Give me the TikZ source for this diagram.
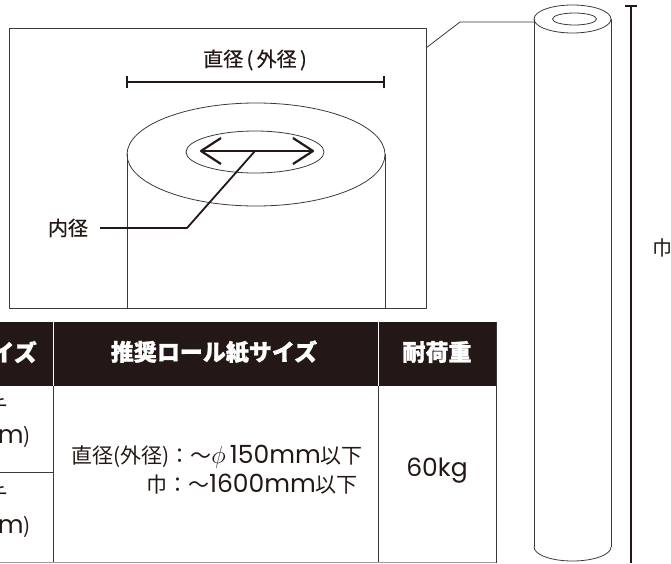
\documentclass[tikz,border=0pt]{standalone}
\usepackage{fontspec}
\setmainfont{Noto Sans CJK JP}
\newfontfamily\mdfont{Noto Sans CJK JP}[FakeBold=0.6]
\newfontfamily\hdfont{Noto Sans CJK JP}[BoldFeatures={FakeBold=1.2}]
\newfontfamily\lat{Poppins}
\definecolor{lc}{HTML}{3A3A3A}
\definecolor{hdr}{HTML}{231815}
\newcommand{\lt}[1]{{\lat\fontsize{25}{25}\selectfont #1}}
\begin{document}
\begin{tikzpicture}[x=1pt,y=-1pt,line join=round,
  ln/.style={draw=lc,line width=0.8pt},
  thk/.style={draw=hdr,line width=2.2pt},
  lbl/.style={inner sep=0pt,text=hdr,font=\mdfont\fontsize{20}{20}\selectfont},
  hd/.style={inner sep=0pt,text=white,font=\hdfont\bfseries\fontsize{23}{23}\selectfont},
  cell/.style={inner sep=0pt,text=hdr,font=\fontsize{21}{21}\selectfont}]
\useasboundingbox (0,0) rectangle (671,563);
\clip (0,0) rectangle (671,563);
% detail box
\draw[ln] (9,28) rectangle (426,308);
\draw[ln] (127,154) -- (127,308) (385,154) -- (385,308);
\draw[ln] (256,154.5) ellipse [x radius=129,y radius=51.5];
\draw[ln] (255,152) ellipse [x radius=69,y radius=21];
% inner diameter arrow
\coordinate (al) at (201,151);
\coordinate (ar) at (313,151);
\draw[thk] (al) -- (ar);
\draw[thk] (221,138) -- (al) -- (221,164);
\draw[thk] (293,138) -- (ar) -- (293,164);
% title + dimension
\node[lbl] (title) at (255,60) {直径\,(\,外径\,)};
\coordinate (d1) at (127,82);
\coordinate (d2) at (384,82);
\draw[draw=hdr,line width=1.3pt] (d1) -- (d2);
\draw[draw=hdr,line width=1.3pt] (127,76) -- (127,88) (384,76) -- (384,88);
% inner label
\node[lbl] (inner) at (68,228) {内径};
\coordinate (k) at (187,228);
\coordinate (m) at (255,151);
\draw[draw=hdr,line width=1.8pt] (100,228) -- (k) -- (m);
% leader to roll
\coordinate (b1) at (426,48);
\coordinate (b2) at (460,22);
\coordinate (b3) at (534,22);
\draw[ln] (b1) -- (b2) -- (b3);
% roll
\draw[ln] (534,19) -- (534,547) (611,19) -- (611,547);
\draw[ln] (572.5,19) ellipse [x radius=38.5,y radius=14];
\draw[ln] (574.5,19) ellipse [x radius=22,y radius=6];
\draw[ln] (534,547) arc [start angle=180,end angle=0,x radius=38.5,y radius=14];
% width dimension
\draw[draw=hdr,line width=1.2pt] (631,6) -- (631,563);
\draw[draw=hdr,line width=1.6pt] (625,6) -- (637,6);
\node[cell,font=\fontsize{20}{20}\selectfont] (w) at (662,248) {巾};
% table
\fill[hdr] (0,322) rectangle (496,386);
\draw[white,line width=0.8pt] (53,322) -- (53,386) (378,322) -- (378,386);
\draw[ln] (53,386) -- (53,563) (378,386) -- (378,563) (496,322) -- (496,563);
\draw[ln] (0,472) -- (53,472);
\draw[draw=lc!50,line width=0.8pt] (0,562.6) -- (496,562.6);
\node[hd,anchor=east] (h1) at (37,352) {サイズ};
\node[hd] (h2) at (214,352) {推奨ロール紙サイズ};
\node[hd] (h3) at (437,352) {耐荷重};
\node[cell,anchor=east] (c1a) at (9,407) {インチ};
\node[cell,anchor=east] (c1b) at (31,437) {(\lt{mm})};
\node[cell,anchor=east] (c2a) at (9,495) {インチ};
\node[cell,anchor=east] (c2b) at (31,527) {(\lt{mm})};
\node[cell,anchor=east] (s1) at (363,457) {直径(外径)：～\lt{$\phi$\,150mm}以下};
\node[cell,anchor=east] (s2) at (358,484) {巾：～\lt{1600mm}以下};
\node[cell] (load) at (437,471) {\lt{60kg}};
\end{tikzpicture}
\end{document}
